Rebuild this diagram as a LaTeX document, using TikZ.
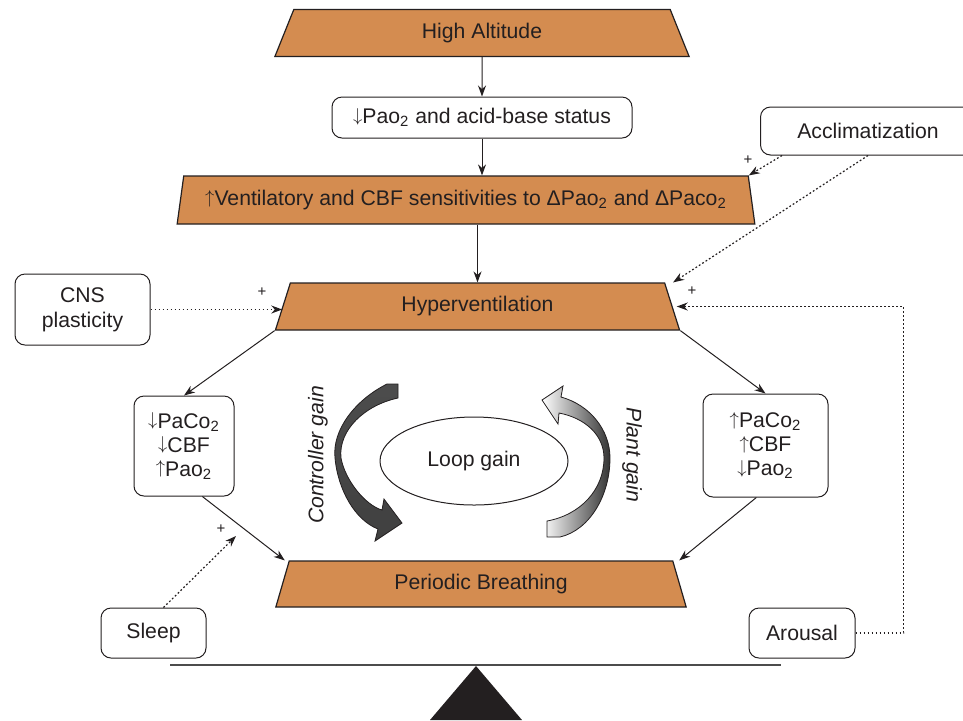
\documentclass[tikz,border=0pt]{standalone}
\usepackage{fontspec}
\setmainfont{Liberation Sans}
\usetikzlibrary{arrows.meta,shapes.geometric,positioning}
\definecolor{clay}{RGB}{212,140,80}
\definecolor{ink}{RGB}{35,31,32}
\newcommand{\up}{\raisebox{0.12em}{\scalebox{0.85}{$\uparrow$}}}
\newcommand{\dn}{\raisebox{0.12em}{\scalebox{0.85}{$\downarrow$}}}

\tikzset{
  stage/.style={trapezium, trapezium stretches=true, trapezium left angle=73,
    trapezium right angle=73, draw=ink, fill=clay, line width=0.6pt, inner sep=0pt},
  factor/.style={draw=ink, rounded corners=5pt, fill=white, line width=0.5pt,
    align=center, inner sep=0pt},
  arr/.style={-{Stealth[length=5.5pt,width=4pt]}, line width=0.5pt, draw=ink},
  modarr/.style={arr, line width=0.6pt, dash pattern=on 0.9pt off 1.1pt},
  plus/.style={font=\fontsize{7.5}{8}\selectfont, inner sep=0pt},
}

\begin{document}
\begin{tikzpicture}[x=0.5pt, y=-0.5pt, font=\fontsize{10.6}{12}\selectfont, text=ink]
  \clip (0,0) rectangle (963,720);

  % main chain
  \node[stage, minimum width=207.5pt, minimum height=23.5pt] (alt) at (482,33) {High Altitude};
  \node[factor, minimum width=150pt, minimum height=20.5pt] (pao) at (482,117.5) {\dn Pao\textsubscript{2} and acid-base status};
  \node[stage, minimum width=289.5pt, minimum height=24pt] (vent) at (466,200)
    {\up Ventilatory and CBF sensitivities to ΔPao\textsubscript{2} and ΔPaco\textsubscript{2}};
  \node[stage, minimum width=203.5pt, minimum height=23.5pt] (hyp) at (477.5,306.5) {Hyperventilation};
  \node[stage, minimum width=207pt, minimum height=23pt] (pb) at (481,584) {Periodic Breathing};

  % side boxes
  \node[factor, minimum width=67.5pt, minimum height=35.5pt, font=\fontsize{10.6}{12.5}\selectfont] (cns) at (82.5,309.5) {CNS\\plasticity};
  \node[factor, minimum width=107.5pt, minimum height=24pt] (acc) at (868,131) {Acclimatization};
  \node[factor, minimum width=50pt, minimum height=50pt, font=\fontsize{10.6}{12}\selectfont] (lbox) at (184,446)
    {\dn PaCo\textsubscript{2}\\\dn CBF\\\up Pao\textsubscript{2}};
  \node[factor, minimum width=62.5pt, minimum height=51.5pt, font=\fontsize{10.6}{12}\selectfont] (rbox) at (765.5,445.5)
    {\up PaCo\textsubscript{2}\\\up CBF\\\dn Pao\textsubscript{2}};
  \node[factor, minimum width=52.5pt, minimum height=25pt] (sleep) at (153.5,633) {Sleep};
  \node[factor, minimum width=53pt, minimum height=25pt] (aro) at (802,633) {Arousal};

  % loop gain and the two gains
  \node[draw=ink, line width=0.5pt, ellipse, minimum width=94pt, minimum height=44pt] (loop) at (474,461) {Loop gain};
  \shadedraw[draw=ink, line width=0.4pt, top color=black!70, middle color=white, bottom color=black!75]
    (387,384) .. controls (355,400) and (332,430) .. (335,458)
    .. controls (338,490) and (355,520) .. (378,529) -- (375,541) -- (402,523) -- (384,499) -- (382,510)
    .. controls (365,505) and (345,480) .. (341,458)
    .. controls (338,430) and (365,405) .. (398,398) -- (398,384) -- cycle;
  \shadedraw[draw=ink, line width=0.4pt, left color=white, right color=black!80]
    (542,400) -- (563,386) -- (561,397) .. controls (590,405) and (610,430) .. (610,458)
    .. controls (610,495) and (590,530) .. (560,537) -- (547,537) -- (547,521)
    .. controls (580,515) and (604,490) .. (604,458)
    .. controls (604,435) and (585,418) .. (559,413) -- (558,424) -- cycle;
  \node[rotate=90, font=\fontsize{10.6}{12}\itshape] (ctrl) at (318,455) {Controller gain};
  \node[rotate=-90, font=\fontsize{10.6}{12}\itshape] (plant) at (632,455) {Plant gain};

  % solid arrows
  \draw[arr] (alt.south) -- (pao.north);
  \draw[arr] (pao.south) -- (pao.south |- vent.north);
  \draw[arr] (hyp.north |- vent.south) -- (hyp.north);
  \draw[arr] (hyp.bottom left corner) -- (lbox.north);
  \draw[arr] (hyp.bottom right corner) -- (rbox.north);
  \draw[arr] (lbox.290) -- ([xshift=-2pt]pb.top left corner);
  \draw[arr] (rbox.260) -- ([xshift=3pt]pb.top right corner);

  % modulating factors
  \draw[modarr] (cns.east) -- (cns.east -| hyp.west);
  \node[plus] (p1) at (262,292) {+};
  \draw[modarr] ([xshift=11pt]acc.south west) -- (vent.top right corner);
  \node[plus] (p2) at (748,160) {+};
  \draw[modarr] (acc.south) -- ([xshift=4pt]hyp.top right corner);
  \draw[modarr] (aro.east) -- ++(48,0) |- ([xshift=2pt]hyp.east);
  \node[plus] (p3) at (692,291) {+};
  \coordinate (slp) at (236,536);
  \draw[modarr] ([xshift=5pt]sleep.north) -- (slp);
  \node[plus] (p4) at (221,529) {+};

  % balance
  \draw[black!70, line width=0.8pt] (170,665) -- (781,665);
  \fill[ink] (476,666) -- (430,720) -- (522,720) -- cycle;
\end{tikzpicture}
\end{document}
